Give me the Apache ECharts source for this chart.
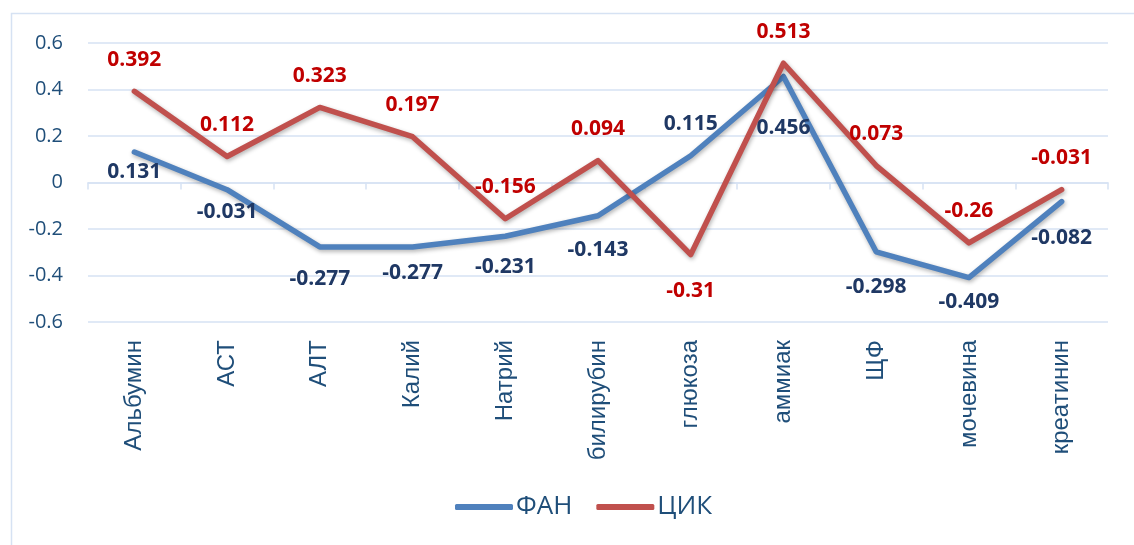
<!DOCTYPE html>
<html><head><meta charset="utf-8">
<script src="https://cdn.jsdelivr.net/npm/echarts@6/dist/echarts.min.js"></script>
<style>html,body{margin:0;padding:0;background:#fff}#c{width:1134px;height:545px}</style>
</head><body><div id="c"></div>
<script>
const categories = ['Альбумин','АСТ','АЛТ','Калий','Натрий','билирубин','глюкоза','аммиак','ЩФ','мочевина','креатинин'];
const fanValues = [0.131,-0.031,-0.277,-0.277,-0.231,-0.143,0.115,0.456,-0.298,-0.409,-0.082];
const cikValues = [0.392,0.112,0.323,0.197,-0.156,0.094,-0.31,0.513,0.073,-0.26,-0.031];
const yTicks = [-0.6,-0.4,-0.2,0,0.2,0.4,0.6];

// label placement (layout only)
const fanAbove = {6:true};
const cikBelow = {6:true};
const fanExtra = [-5,-2,8,2,6,10,0,27,11,0,12];
const cikExtra = [0,0,0,0,0,0,12,0,0,0,0];
const font = '"Open Sans", Carlito, sans-serif';
const catFont = '"Liberation Sans", Arial, sans-serif';
const axisBlue = '#1f4e79';

function mkData(vals, isFan){
  return vals.map((v,i)=>{
    let up = isFan ? !!fanAbove[i] : !cikBelow[i];
    const extra = (isFan ? fanExtra : cikExtra)[i];
    return {value:v, label:{position: up?'top':'bottom', distance: (up?21:14) + extra}};
  });
}

const chart = echarts.init(document.getElementById('c'));
chart.setOption({
  animation:false,
  graphic:[{type:'rect', shape:{x:11.5,y:13.5,width:1140,height:600}, style:{fill:'none', stroke:'#d6e2f3', lineWidth:1.5}, silent:true}],
  grid:{left:88,right:26,top:43,bottom:223},
  legend:{bottom:20,left:450,itemWidth:58,itemHeight:6,itemGap:24,
    textStyle:{fontSize:26,color:axisBlue,fontFamily:font,padding:[0,0,0,-2]},
    data:[{name:'ФАН',icon:'roundRect'},{name:'ЦИК',icon:'roundRect'}]},
  xAxis:[{type:'category',data:categories,boundaryGap:true,
      axisLine:{show:false,onZero:false},axisTick:{show:false},
      axisLabel:{rotate:90,fontSize:24,color:axisBlue,fontFamily:catFont,margin:18,interval:0}},
    {type:'category',data:categories,boundaryGap:true,position:'bottom',
      axisLine:{show:true,onZero:true,lineStyle:{color:'#d6e2f3',width:1.5}},
      axisTick:{show:true,length:7,inside:false,lineStyle:{color:'#d6e2f3',width:1.5}},
      axisLabel:{show:false}}],
  yAxis:{type:'value',min:-0.6,max:0.6,interval:0.2,
    axisLine:{show:false},axisTick:{show:false},
    splitLine:{lineStyle:{color:'#d6e2f3',width:1.5}},
    axisLabel:{fontSize:20,color:axisBlue,fontFamily:font,margin:25,
      formatter:v=>{const t=yTicks.find(x=>Math.abs(x-v)<1e-9);return t===undefined?'':String(t===0?0:t);}}},
  series:[
    {name:'ФАН',type:'line',data:mkData(fanValues,true),symbol:'circle',symbolSize:0.01,showSymbol:true,
      lineStyle:{color:'#4f81bd',width:5.5,cap:'round',join:'round',shadowColor:'rgba(0,0,0,0.3)',shadowBlur:4,shadowOffsetY:2,shadowOffsetX:1},
      itemStyle:{color:'#4f81bd'},
      label:{show:true,fontSize:21,fontWeight:'bold',color:'#1f3864',fontFamily:font}},
    {name:'ЦИК',type:'line',data:mkData(cikValues,false),symbol:'circle',symbolSize:0.01,showSymbol:true,
      lineStyle:{color:'#c0504d',width:5.5,cap:'round',join:'round',shadowColor:'rgba(0,0,0,0.3)',shadowBlur:4,shadowOffsetY:2,shadowOffsetX:1},
      itemStyle:{color:'#c0504d'},
      label:{show:true,fontSize:21,fontWeight:'bold',color:'#c00000',fontFamily:font}}
  ]
});
</script></body></html>
